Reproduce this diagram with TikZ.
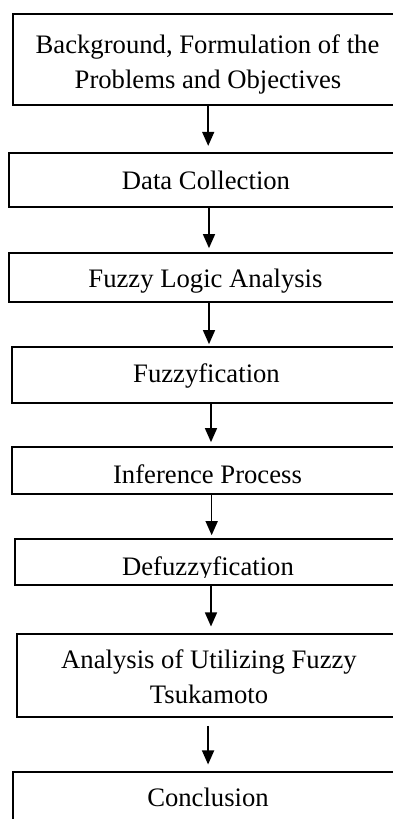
\documentclass[tikz,border=0pt]{standalone}
\usepackage{fontspec}
\setmainfont{Liberation Serif}
\usetikzlibrary{arrows.meta,fit}
\begin{document}
\begin{tikzpicture}[x=0.75pt,y=-0.75pt,
  stepbox/.style={draw=black, line width=1.3pt, inner sep=0pt},
  lbl/.style={font=\fontsize{20}{24}\selectfont, anchor=base, inner sep=0pt},
  flow/.style={draw=black, line width=1.1pt, -{Triangle[width=9pt,length=10.5pt]}}]
\useasboundingbox (0,0) rectangle (393,819);
\fill[white] (0,0) rectangle (393,819);
\clip (0,0) rectangle (393,819);

% process boxes (they run past the right and bottom edges of the page)
\node[stepbox, fit={(13,14) (401,105)}]  (b1) {};
\node[stepbox, fit={(9,153) (405,207)}]  (b2) {};
\node[stepbox, fit={(9,253) (405,302)}]  (b3) {};
\node[stepbox, fit={(12,347) (402,403)}] (b4) {};
\node[stepbox, fit={(12,447) (402,494)}] (b5) {};
\node[stepbox, fit={(15,539) (399,585)}] (b6) {};
\node[stepbox, fit={(17,634) (397,717)}] (b7) {};
\node[stepbox, fit={(13,772) (401,850)}] (b8) {};

% box labels
\node[lbl] (t1a) at (207.5,53)  {Background, Formulation of the};
\node[lbl] (t1b) at (208,88)    {Problems and Objectives};
\node[lbl] (t2)  at (206,189)   {Data Collection};
\node[lbl] (t3)  at (205.5,287) {Fuzzy Logic Analysis};
\node[lbl] (t4)  at (206.5,382) {Fuzzyfication};
\node[lbl] (t5)  at (207.5,483) {Inference Process};
\begin{scope}
  \clip (0,500) rectangle (393,577);
  \node[lbl] (t6) at (208,575.5) {Defuzzyfication};
\end{scope}
\node[lbl] (t7a) at (209,668)   {Analysis of Utilizing Fuzzy};
\node[lbl] (t7b) at (209,703)   {Tsukamoto};
\node[lbl] (t8)  at (208,806)   {Conclusion};

% connectors
\draw[flow] ([xshift=0.9pt]b1.south) -- ([xshift=0.9pt,yshift=4.7pt]b2.north);
\draw[flow] ([xshift=1.5pt]b2.south) -- ([xshift=1.5pt,yshift=3pt]b3.north);
\draw[flow] ([xshift=1.5pt]b3.south) -- ([xshift=1.5pt,yshift=1.5pt]b4.north);
\draw[flow] ([xshift=3pt]b4.south) -- ([xshift=3pt,yshift=3pt]b5.north);
\draw[flow] ([xshift=3.5pt]b5.south) -- ([xshift=3.5pt,yshift=2.2pt]b6.north);
\draw[flow] ([xshift=3pt]b6.south) -- ([xshift=3pt,yshift=5pt]b7.north);
\draw[flow] ([xshift=0.8pt,yshift=-6pt]b7.south) -- ([xshift=0.8pt,yshift=5pt]b8.north);
\end{tikzpicture}
\end{document}
